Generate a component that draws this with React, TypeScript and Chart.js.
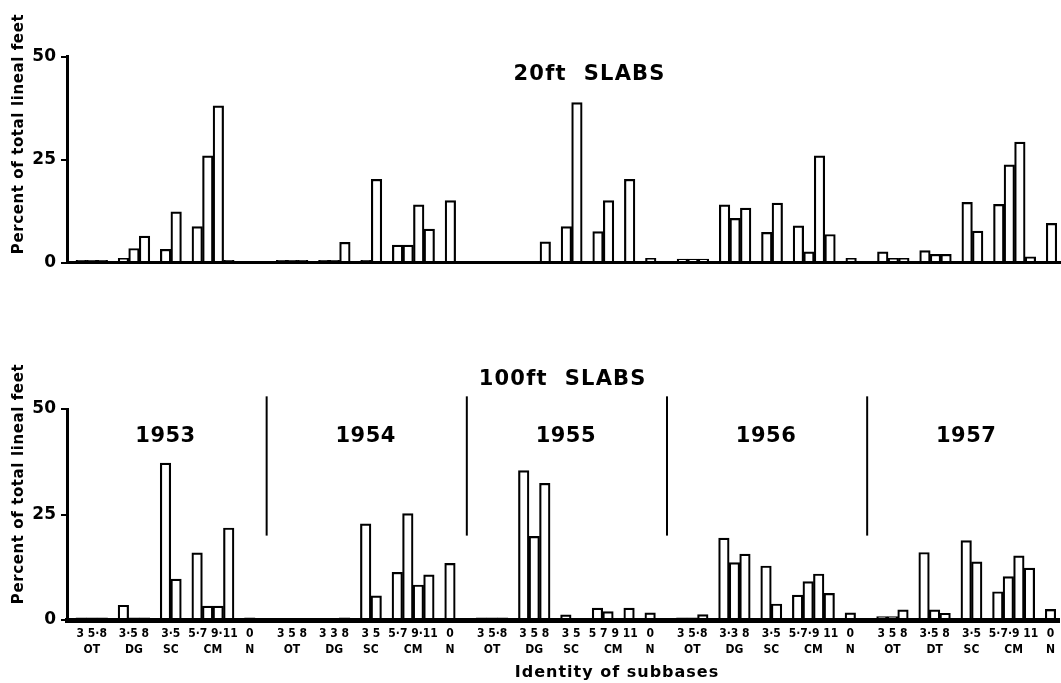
import React, { useEffect, useRef } from 'react';
import { Chart, registerables } from 'chart.js';

Chart.register(...registerables);

// ---- data -------------------------------------------------------------
const YEARS = ['1953', '1954', '1955', '1956', '1957'];

// bars per subbase type, in order OT, DG, SC, CM, N
const BARS_PER_TYPE = [3, 3, 2, 4, 1];

const TYPE_NAMES = [
  ['OT', 'DG', 'SC', 'CM', 'N'],
  ['OT', 'DG', 'SC', 'CM', 'N'],
  ['OT', 'DG', 'SC', 'CM', 'N'],
  ['OT', 'DG', 'SC', 'CM', 'N'],
  ['OT', 'DT', 'SC', 'CM', 'N'],
];

const SIZE_LABELS = [
  ['3 5·8', '3·5 8', '3·5', '5·7 9·11', '0'],
  ['3 5 8', '3 3 8', '3 5', '5·7 9·11', '0'],
  ['3 5·8', '3 5 8', '3 5', '5 7 9 11', '0'],
  ['3 5·8', '3·3 8', '3·5', '5·7·9 11', '0'],
  ['3 5 8', '3·5 8', '3·5', '5·7·9 11', '0'],
];

// percent of total lineal feet, one row per year:
// OT 3,5,8 | DG 3,5,8 | SC 3,5 | CM 5,7,9,11 | N 0
const PCT_20FT = [
  [0.5, 0.5, 0.5, 1, 3.4, 6.4, 3.2, 12.3, 8.7, 25.9, 38, 0.5, 0.3],
  [0.5, 0.5, 0.5, 0.5, 0.5, 4.9, 0.5, 20.2, 4.2, 4.2, 14, 8.1, 15],
  [0.3, 0.3, 0.3, 0, 0, 5, 8.7, 38.8, 7.5, 15, 0, 20.2, 1],
  [0.8, 0.8, 0.8, 14, 10.7, 13.2, 7.3, 14.4, 8.9, 2.6, 25.9, 6.8, 1],
  [2.6, 1, 1, 2.9, 2, 2, 14.6, 7.6, 14.1, 23.7, 29.2, 1.4, 9.5],
];

const PCT_100FT = [
  [0.5, 0.5, 0.5, 3.5, 0.5, 0.5, 37.2, 9.7, 15.9, 3.3, 3.3, 21.8, 0.5],
  [0.4, 0.4, 0.4, 0.4, 0.4, 0.5, 22.8, 5.7, 11.3, 25.2, 8.3, 10.7, 13.4],
  [0.5, 0.5, 0.5, 35.4, 19.8, 32.4, 1.2, 0.3, 2.8, 2, 0, 2.8, 1.7],
  [0.5, 0.5, 1.3, 19.4, 13.6, 15.6, 12.8, 3.8, 5.9, 9.1, 10.9, 6.3, 1.7],
  [0.8, 0.8, 2.4, 16, 2.4, 1.6, 18.8, 13.8, 6.7, 10.3, 15.2, 12.3, 2.5],
];

const Y_TICKS = [0, 25, 50];

// ---- slot layout ------------------------------------------------------
// every bar takes one slot; one empty slot between subbase types and two after each year
const TYPE_GAP = 1;
const YEAR_TAIL = 2;
const TYPE_START: number[] = [];
let cursor = 0;
for (const n of BARS_PER_TYPE) {
  TYPE_START.push(cursor);
  cursor += n + TYPE_GAP;
}
const SLOTS_PER_YEAR = cursor - TYPE_GAP + YEAR_TAIL;
const X_MIN = -1.35;
const X_MAX = 92.9;

function toPoints(rows: number[][]) {
  const pts: { x: number; y: number }[] = [];
  rows.forEach((row, yi) => {
    let k = 0;
    BARS_PER_TYPE.forEach((n, t) => {
      for (let b = 0; b < n; b++) {
        pts.push({ x: yi * SLOTS_PER_YEAR + TYPE_START[t] + b, y: row[k++] });
      }
    });
  });
  return pts;
}

const TICK_POS: number[] = [];
const TICK_TEXT: string[][] = [];
YEARS.forEach((_, yi) => {
  BARS_PER_TYPE.forEach((n, t) => {
    TICK_POS.push(yi * SLOTS_PER_YEAR + TYPE_START[t] + (n - 1) / 2);
    TICK_TEXT.push([SIZE_LABELS[yi][t], TYPE_NAMES[yi][t]]);
  });
});

// ---- styling ----------------------------------------------------------
const FONT = '"DejaVu Sans", "Noto Sans", sans-serif';
const NARROW = '"DejaVu Sans Condensed", "Liberation Sans Narrow", "DejaVu Sans", sans-serif';
const W = 1061;
const TOP_H = 300;
const BOT_H = 383;

function drawText(ctx: CanvasRenderingContext2D, text: string, x: number, y: number, size: number, spacing = 0, rotate = false) {
  ctx.save();
  ctx.fillStyle = '#000';
  ctx.font = `bold ${size}px ${FONT}`;
  (ctx as any).letterSpacing = `${spacing}px`;
  ctx.textAlign = 'center';
  ctx.textBaseline = 'middle';
  ctx.translate(x, y);
  if (rotate) ctx.rotate(-Math.PI / 2);
  ctx.fillText(text, 0, 0);
  ctx.restore();
}

function baseConfig(rows: number[][], xBorder: number, xHeight: number, padTop: number, xTicks: boolean, extra: any) {
  return {
    type: 'bar' as const,
    data: {
      datasets: [
        {
          data: toPoints(rows),
          backgroundColor: '#ffffff',
          borderColor: '#000000',
          borderWidth: 2.2,
          borderSkipped: 'start' as const,
          barPercentage: 1,
          categoryPercentage: 1,
        },
      ],
    },
    options: {
      responsive: false,
      animation: false as const,
      events: [],
      layout: { padding: { top: padTop, right: 0, bottom: 0, left: 0 } },
      plugins: { legend: { display: false }, tooltip: { enabled: false }, title: { display: false } },
      scales: {
        x: {
          type: 'linear' as const,
          min: X_MIN,
          max: X_MAX,
          offset: false,
          grid: { display: false, drawTicks: false, offset: false },
          border: { display: true, color: '#000', width: xBorder, z: 2 },
          afterBuildTicks: xTicks
            ? (s: any) => {
                s.ticks = TICK_POS.map((v) => ({ value: v }));
              }
            : undefined,
          ticks: xTicks
            ? {
                display: true,
                autoSkip: false,
                maxRotation: 0,
                minRotation: 0,
                color: '#000',
                padding: 6,
                font: { family: NARROW, size: 12, weight: 'bold' as const, lineHeight: 1.3 },
                callback: (_v: any, i: number) => TICK_TEXT[i],
              }
            : { display: false },
          afterFit: (s: any) => {
            s.height = xHeight;
          },
        },
        y: {
          min: 0,
          max: 50,
          afterBuildTicks: (s: any) => {
            s.ticks = Y_TICKS.map((v) => ({ value: v }));
          },
          ticks: { color: '#000', padding: 5, font: { family: FONT, size: 17, weight: 'bold' as const } },
          grid: { drawOnChartArea: false, drawTicks: true, tickLength: 6, color: '#000', lineWidth: 2 },
          border: { color: '#000', width: 3, z: 2 },
          afterFit: (s: any) => {
            s.width = 67;
          },
        },
      },
    },
    plugins: [extra],
  };
}

export default function App() {
  const topRef = useRef<HTMLCanvasElement>(null);
  const botRef = useRef<HTMLCanvasElement>(null);

  useEffect(() => {
    const topLabels = {
      id: 'topLabels',
      afterDraw(chart: any) {
        const { ctx, scales } = chart;
        drawText(ctx, 'Percent of total lineal feet', 19, 134, 15, 0.6, true);
        drawText(ctx, '20ft  SLABS', scales.x.getPixelForValue(48.2), scales.y.getPixelForValue(45.5), 21, 1.2);
      },
    };

    const botLabels = {
      id: 'botLabels',
      afterDraw(chart: any) {
        const { ctx, scales } = chart;
        const x = scales.x;
        const y = scales.y;
        drawText(ctx, 'Percent of total lineal feet', 19, 184, 15, 0.6, true);
        drawText(ctx, '100ft  SLABS', x.getPixelForValue(45.7), chart.chartArea.top - 29, 21, 1.2);
        // year separators
        ctx.save();
        ctx.strokeStyle = '#000';
        ctx.lineWidth = 2;
        for (let i = 1; i < YEARS.length; i++) {
          const px = x.getPixelForValue(i * SLOTS_PER_YEAR - 1.4);
          ctx.beginPath();
          ctx.moveTo(px, y.getPixelForValue(53));
          ctx.lineTo(px, y.getPixelForValue(20));
          ctx.stroke();
        }
        ctx.restore();
        YEARS.forEach((yr, i) => {
          drawText(ctx, yr, x.getPixelForValue(i * SLOTS_PER_YEAR + 8), y.getPixelForValue(43.5), 21, 0.5);
        });
        drawText(ctx, 'Identity of subbases', 617, chart.height - 10, 16, 1);
      },
    };

    const top = new Chart(topRef.current!, baseConfig(PCT_20FT, 3, 37.5, 56.5, false, topLabels) as any);
    const bot = new Chart(botRef.current!, baseConfig(PCT_100FT, 5, 63, 109, true, botLabels) as any);
    return () => {
      top.destroy();
      bot.destroy();
    };
  }, []);

  return (
    <div style={{ position: 'absolute', left: 0, top: 0, width: W, height: TOP_H + BOT_H, background: '#fff' }}>
      <canvas ref={topRef} width={W} height={TOP_H} style={{ position: 'absolute', left: 0, top: 0 }} />
      <canvas ref={botRef} width={W} height={BOT_H} style={{ position: 'absolute', left: 0, top: TOP_H }} />
    </div>
  );
}
